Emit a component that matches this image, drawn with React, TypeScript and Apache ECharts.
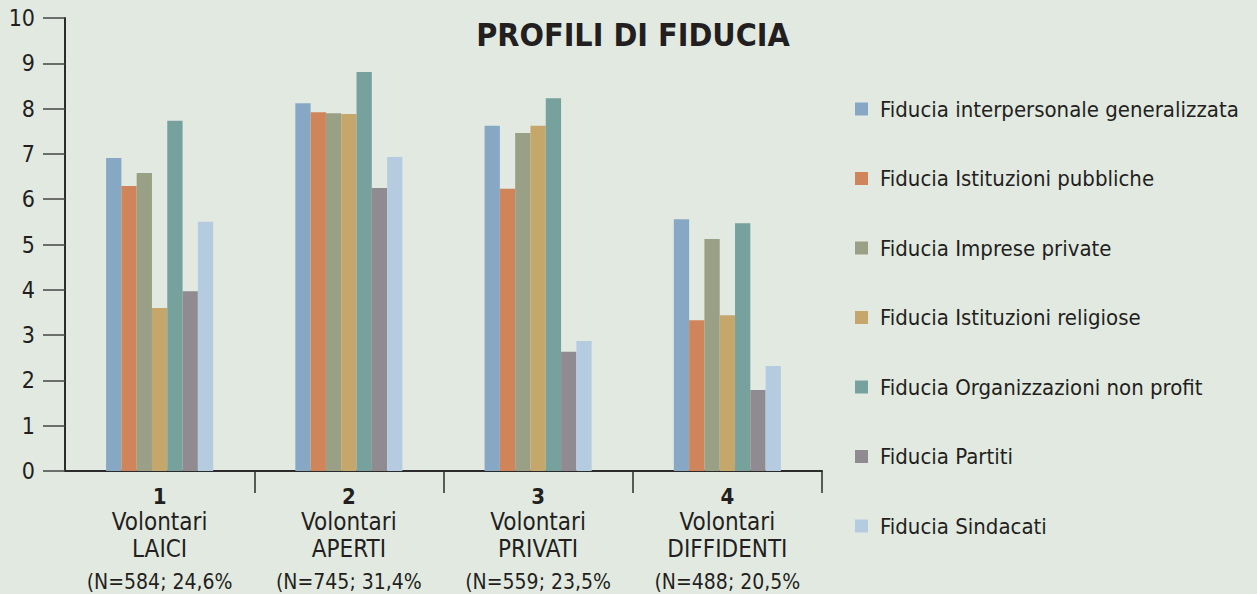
import React, { useEffect, useRef } from "react";
import * as echarts from "echarts";

const categories = [
  "{n|1}\n{v|Volontari}\n{l|LAICI}\n{p|(N=584; 24,6%}",
  "{n|2}\n{v|Volontari}\n{l|APERTI}\n{p|(N=745; 31,4%}",
  "{n|3}\n{v|Volontari}\n{l|PRIVATI}\n{p|(N=559; 23,5%}",
  "{n|4}\n{v|Volontari}\n{l|DIFFIDENTI}\n{p|(N=488; 20,5%}",
];

const seriesNames = [
  "Fiducia interpersonale generalizzata",
  "Fiducia Istituzioni pubbliche",
  "Fiducia Imprese private",
  "Fiducia Istituzioni religiose",
  "Fiducia Organizzazioni non profit",
  "Fiducia Partiti",
  "Fiducia Sindacati",
];

const interpersonale = [6.91, 8.12, 7.62, 5.56];
const pubbliche = [6.29, 7.92, 6.23, 3.33];
const imprese = [6.58, 7.9, 7.46, 5.12];
const religiose = [3.6, 7.88, 7.62, 3.44];
const nonProfit = [7.73, 8.81, 8.23, 5.47];
const partiti = [3.97, 6.25, 2.63, 1.79];
const sindacati = [5.5, 6.93, 2.87, 2.32];

const seriesValues = [interpersonale, pubbliche, imprese, religiose, nonProfit, partiti, sindacati];
const colors = ["#87a8c4", "#d08459", "#9aa085", "#c5a76b", "#76a19d", "#908a91", "#b5cce0"];

const FONT = "'DejaVu Sans Condensed', 'DejaVu Sans', sans-serif";
const TEXT = "#231f20";

export default function App() {
  const ref = useRef<HTMLDivElement>(null);
  useEffect(() => {
    if (!ref.current) return;
    const chart = echarts.init(ref.current, null, { renderer: "svg" });
    chart.setOption({
      animation: false,
      backgroundColor: "#e2e9e1",
      textStyle: { fontFamily: FONT, color: TEXT },
      title: {
        text: "PROFILI DI FIDUCIA",
        left: 628,
        textAlign: "center",
        top: 14,
        textStyle: { fontFamily: FONT, fontSize: 32, fontWeight: "bold", color: TEXT },
      },
      legend: {
        orient: "vertical",
        left: 850,
        top: 92,
        itemWidth: 13,
        itemHeight: 13,
        itemGap: 45.5,
        icon: "rect",
        textStyle: { fontFamily: FONT, fontSize: 22, color: TEXT, lineHeight: 24, padding: [0, 0, 0, 7] },
        data: seriesNames,
      },
      grid: { left: 65, right: 435, top: 18, bottom: 123, containLabel: false },
      xAxis: {
        type: "category",
        data: categories,
        axisLine: { lineStyle: { color: "#2b2b2b", width: 2 } },
        axisTick: {
          show: true,
          length: 22,
          interval: (i: number) => i !== 0,
          lineStyle: { color: "#2b2b2b", width: 1.5 },
        },
        axisLabel: {
          margin: 12,
          interval: 0,
          color: TEXT,
          fontFamily: FONT,
          rich: {
            n: { fontFamily: FONT, fontSize: 22, fontWeight: "bold", lineHeight: 26, color: TEXT },
            v: { fontFamily: FONT, fontSize: 24, lineHeight: 26, color: TEXT },
            l: { fontFamily: FONT, fontSize: 24, lineHeight: 28, color: TEXT },
            p: { fontFamily: FONT, fontSize: 21, lineHeight: 38, color: TEXT },
          },
        },
      },
      yAxis: {
        type: "value",
        min: 0,
        max: 10,
        interval: 1,
        splitLine: { show: false },
        axisLine: { show: true, lineStyle: { color: "#2b2b2b", width: 2 } },
        axisTick: { show: true, length: 22, lineStyle: { color: "#444", width: 1.5 } },
        axisLabel: { margin: 30, fontSize: 23, color: TEXT, fontFamily: FONT },
      },
      series: seriesNames.map((name, i) => ({
        name,
        type: "bar",
        data: seriesValues[i],
        barWidth: 15.3,
        barGap: "0%",
        itemStyle: { color: colors[i] },
      })),
    });
    return () => chart.dispose();
  }, []);
  return <div ref={ref} style={{ position: "fixed", left: 0, top: 0, width: 1257, height: 594 }} />;
}
